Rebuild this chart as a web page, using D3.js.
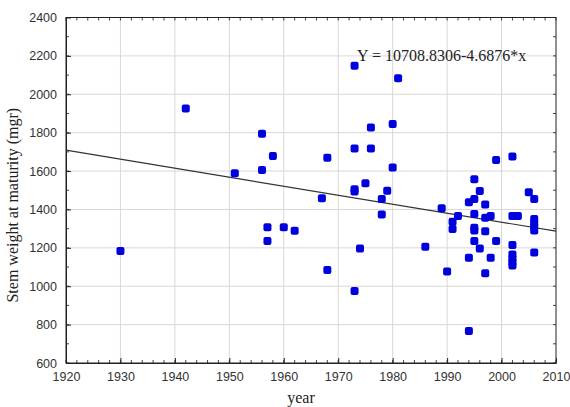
<!DOCTYPE html>
<html>
<head>
<meta charset="utf-8">
<script src="https://cdn.jsdelivr.net/npm/d3@7"></script>
<style>
  body { margin: 0; background: #fff; }
  .tick text { font-family: "Liberation Sans", Arial, sans-serif; font-size: 12.5px; fill: #333; }
  .lbl { font-family: "Liberation Serif", "Times New Roman", serif; fill: #222; }
</style>
</head>
<body>
<div id="chartArea"></div>
<script>
const years = [1930, 1942, 1951, 1956, 1956, 1957, 1957, 1958, 1960, 1962,
  1967, 1968, 1968, 1973, 1973, 1973, 1973, 1973, 1974,
  1975, 1976, 1976, 1978, 1978, 1979, 1980, 1980, 1981, 1986,
  1989, 1990, 1991, 1991, 1992, 1994, 1994, 1994, 1995, 1995,
  1995, 1995, 1995, 1995, 1996, 1996, 1997, 1997, 1997, 1997,
  1998, 1998, 1999, 1999, 2002, 2002, 2002, 2002, 2002, 2002,
  2002, 2003, 2005, 2006, 2006, 2006, 2006, 2006, 2006];
const weights = [1183, 1926, 1588, 1794, 1605, 1307, 1235, 1678, 1307, 1289,
  1458, 1084, 1669, 2148, 1718, 1505, 1493, 975, 1197,
  1537, 1827, 1718, 1454, 1374, 1497, 1845, 1619, 2084, 1206,
  1406, 1077, 1336, 1298, 1366, 1437, 1148, 767, 1557, 1454,
  1376, 1305, 1290, 1235, 1496, 1197, 1426, 1357, 1287, 1067,
  1366, 1148, 1657, 1235, 1676, 1366, 1215, 1165, 1145, 1125,
  1108, 1366, 1489, 1454, 1350, 1330, 1310, 1290, 1176];
const xTicks = [1920, 1930, 1940, 1950, 1960, 1970, 1980, 1990, 2000, 2010];
const yTicks = [600, 800, 1000, 1200, 1400, 1600, 1800, 2000, 2200, 2400];
const fit = { a: 10708.8306, b: -4.6876 };

const dataset = years.map((y, i) => ({ x: y, y: weights[i] }));
const margin = { top: 17.5, right: 14, bottom: 44, left: 66 };
const W = 570, H = 407;
const w = W - margin.left - margin.right;
const h = H - margin.top - margin.bottom;

const svg = d3.select("#chartArea").append("svg")
  .attr("width", W).attr("height", H)
  .append("g")
  .attr("transform", "translate(" + margin.left + "," + margin.top + ")");

const xScale = d3.scaleLinear().domain([1920, 2010]).range([0, w]);
const yScale = d3.scaleLinear().domain([600, 2400]).range([h, 0]);

// grid
svg.append("g").selectAll("line").data(xTicks.slice(1, -1)).enter().append("line")
  .attr("x1", d => xScale(d)).attr("x2", d => xScale(d))
  .attr("y1", 0).attr("y2", h).attr("stroke", "#d8d8d8");
svg.append("g").selectAll("line").data(yTicks.slice(1, -1)).enter().append("line")
  .attr("y1", d => yScale(d)).attr("y2", d => yScale(d))
  .attr("x1", 0).attr("x2", w).attr("stroke", "#d8d8d8");

// minor ticks on all four sides
const xMinor = d3.range(1920, 2010.1, 2);
const yMinor = d3.range(600, 2400.1, 100);
[0, h].forEach(yy => {
  svg.append("g").selectAll("line").data(xMinor).enter().append("line")
    .attr("x1", d => xScale(d)).attr("x2", d => xScale(d))
    .attr("y1", yy).attr("y2", yy === 0 ? 3 : h - 3).attr("stroke", "#444");
});
[0, w].forEach(xx => {
  svg.append("g").selectAll("line").data(yMinor).enter().append("line")
    .attr("y1", d => yScale(d)).attr("y2", d => yScale(d))
    .attr("x1", xx).attr("x2", xx === 0 ? 3 : w - 3).attr("stroke", "#444");
});

const xAxis = d3.axisBottom(xScale).tickValues(xTicks).tickFormat(d3.format("d"))
  .tickSizeInner(-5).tickSizeOuter(0).tickPadding(9);
svg.append("g").attr("class", "x axis").attr("transform", "translate(0," + h + ")").call(xAxis);

const yAxis = d3.axisLeft(yScale).tickValues(yTicks).tickFormat(d3.format("d"))
  .tickSizeInner(-5).tickSizeOuter(0).tickPadding(9);
svg.append("g").attr("class", "y axis").call(yAxis);

svg.selectAll(".axis path, .axis line").attr("stroke", "#222");

// frame
svg.append("rect").attr("width", w).attr("height", h)
  .attr("fill", "none").attr("stroke", "#222");

// regression line
svg.append("line")
  .attr("x1", xScale(1920)).attr("y1", yScale(fit.a + fit.b * 1920))
  .attr("x2", xScale(2010)).attr("y2", yScale(fit.a + fit.b * 2010))
  .attr("stroke", "#333").attr("stroke-width", 1.2);

// points
svg.selectAll("rect.pt").data(dataset).enter().append("rect")
  .attr("class", "pt")
  .attr("x", d => xScale(d.x) - 4).attr("y", d => yScale(d.y) - 4)
  .attr("width", 8).attr("height", 8).attr("rx", 2)
  .attr("fill", "#0000dd");

svg.append("text").attr("class", "lbl")
  .attr("x", 291).attr("y", 43.5)
  .style("font-size", "16px")
  .text("Y = 10708.8306-4.6876*x");

svg.append("text").attr("class", "lbl")
  .attr("x", w / 2 - 10).attr("y", h + 40)
  .attr("text-anchor", "middle").style("font-size", "16px")
  .text("year");

svg.append("text").attr("class", "lbl")
  .attr("transform", "translate(-48," + (h / 2 + 15) + ") rotate(-90)")
  .attr("text-anchor", "middle").style("font-size", "16px")
  .text("Stem weight at maturity (mgr)");
</script>
</body>
</html>
